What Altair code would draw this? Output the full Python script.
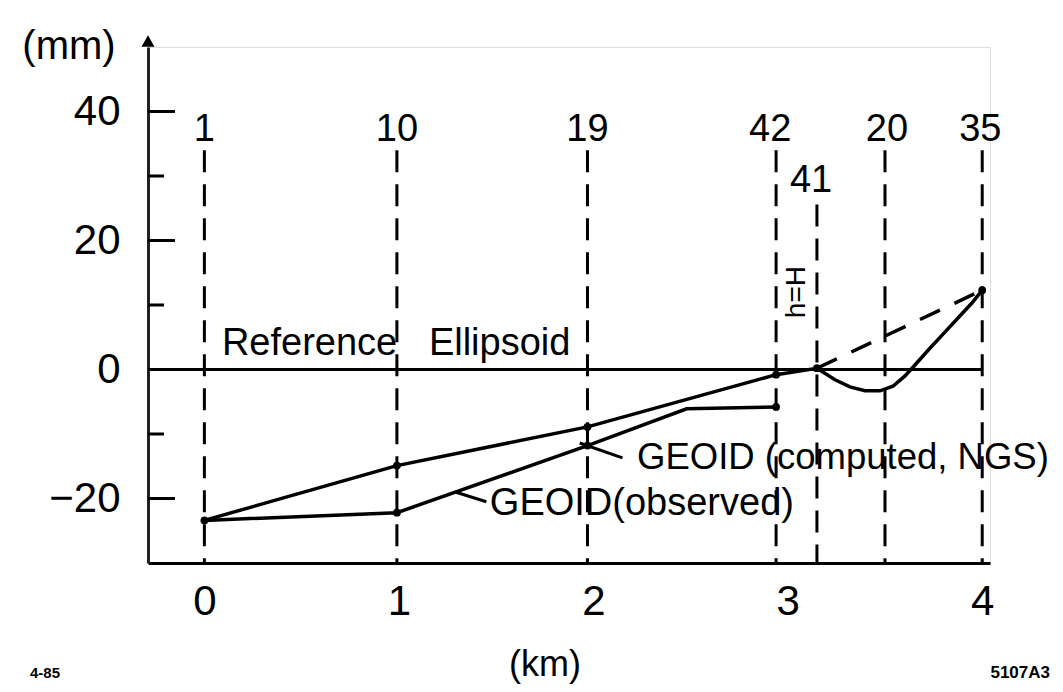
import altair as alt
import pandas as pd

# ---- data ----
station_names = ["1", "10", "19", "42", "41", "20", "35"]
station_km = [0.0, 0.99, 1.97, 2.94, 3.15, 3.50, 4.0]
station_top_mm = [34.0, 34.0, 34.0, 34.0, 25.6, 34.0, 34.0]

upper_km = [0.0, 0.99, 1.97, 2.94, 3.15, 3.243, 3.32, 3.397, 3.474, 3.541, 3.603,
            3.654, 3.731, 3.808, 3.885, 3.947, 4.0]
upper_mm = [-23.4, -14.9, -8.9, -0.8, 0.2, -1.6, -2.7, -3.3, -3.3, -2.6, -1.0,
            0.7, 3.3, 5.8, 8.3, 10.3, 12.3]

lower_km = [0.0, 0.99, 1.97, 2.48, 2.94]
lower_mm = [-23.4, -22.2, -11.8, -6.1, -5.8]

dash_km = [3.15, 4.0]
dash_mm = [0.2, 12.3]

dot_km = [0.0, 0.99, 1.97, 2.94, 3.15, 4.0, 0.99, 1.97, 2.94]
dot_mm = [-23.4, -14.9, -8.9, -0.8, 0.2, 12.3, -22.2, -11.8, -5.8]

ellipsoid_mm = [0.0]
ellipsoid_end_km = [4.0]

x_ticks = [0, 1, 2, 3, 4]
y_labels = [-20, 0, 20, 40]
y_major = [-20, 0, 20, 40]
y_minor = [-10, 10, 30]

# ---- styling / annotation placement ----
FONT = "Liberation Sans"
W, H = 842, 516
X_DOMAIN = [-0.29, 4.04]
Y_DOMAIN = [-30, 50]

xs = alt.Scale(domain=X_DOMAIN, nice=False, zero=False)
ys = alt.Scale(domain=Y_DOMAIN, nice=False, zero=False)
x_axis = alt.Axis(values=x_ticks, ticks=False, tickSize=0, grid=False, labelFontSize=42,
                  labelFont=FONT, labelColor="black", labelPadding=18, domainColor="black",
                  domainWidth=3, title=None)
y_axis = alt.Axis(values=y_labels, ticks=False, tickSize=0, grid=False, labelFontSize=42,
                  labelFont=FONT, labelColor="black", labelPadding=28, domainColor="#222",
                  domainWidth=3, title=None)


def X(f):
    return alt.X(f, type="quantitative", scale=xs, axis=x_axis)


def Y(f):
    return alt.Y(f, type="quantitative", scale=ys, axis=y_axis)


stations = pd.DataFrame({"name": station_names, "km": station_km, "top": station_top_mm})
upper = pd.DataFrame({"km": upper_km, "mm": upper_mm})
lower = pd.DataFrame({"km": lower_km, "mm": lower_mm})
dashed = pd.DataFrame({"km": dash_km, "mm": dash_mm})
dots = pd.DataFrame({"km": dot_km, "mm": dot_mm})
ellipsoid = pd.DataFrame({"mm": ellipsoid_mm, "km1": [X_DOMAIN[0]] * len(ellipsoid_mm),
                          "km2": ellipsoid_end_km})
majors = pd.DataFrame({"mm": y_major})
minors = pd.DataFrame({"mm": y_minor})

# station label placement (annotation layout)
lab = stations.copy()
lab["ly"] = [37.1, 37.1, 37.1, 37.1, 29.2, 37.1, 37.1]
lab["lx"] = [0.0, 0.99, 1.97, 2.91, 3.12, 3.51, 3.99]

station_lines = alt.Chart(stations).mark_rule(
    color="black", strokeWidth=3, strokeDash=[22, 12]
).encode(x=X("km"), y=Y("top"), y2=alt.value(H))

station_labels = alt.Chart(lab).mark_text(
    font=FONT, fontSize=38, baseline="middle", align="center", color="black"
).encode(x=X("lx"), y=Y("ly"), text="name:N")

zero_line = alt.Chart(ellipsoid).mark_rule(color="black", strokeWidth=3).encode(
    y=Y("mm"), x=X("km1"), x2="km2:Q"
)

major_ticks = alt.Chart(majors).mark_rule(color="black", strokeWidth=3).encode(
    y=Y("mm"), x=alt.value(0), x2=alt.value(27)
)
minor_ticks = alt.Chart(minors).mark_rule(color="black", strokeWidth=3).encode(
    y=Y("mm"), x=alt.value(0), x2=alt.value(16)
)

line_upper = alt.Chart(upper).mark_line(color="black", strokeWidth=3.5).encode(
    x=X("km"), y=Y("mm"), order="km:Q"
)
line_lower = alt.Chart(lower).mark_line(color="black", strokeWidth=3.5).encode(
    x=X("km"), y=Y("mm"), order="km:Q"
)
line_dash = alt.Chart(dashed).mark_line(color="black", strokeWidth=3.5, strokeDash=[22, 16]).encode(
    x=X("km"), y=Y("mm")
)
points = alt.Chart(dots).mark_point(filled=True, color="black", size=60, opacity=1).encode(
    x=X("km"), y=Y("mm")
)

# annotations (text + leaders), placed in data units
ann = pd.DataFrame({
    "t": ["Reference\u00a0\u00a0\u00a0Ellipsoid", "GEOID (computed, NGS)", "GEOID(observed)"],
    "x": [0.09, 2.225, 1.468],
    "y": [2.25, -15.4, -22.6],
    "fs": [38.0, 36.5, 38.0],
})
ann_text = alt.Chart(ann).mark_text(
    font=FONT, align="left", baseline="alphabetic", color="black"
).encode(x=X("x"), y=Y("y"), text="t:N",
         size=alt.Size("fs:Q", scale=None, legend=None))

leaders = pd.DataFrame({
    "x": [1.93, 1.29], "y": [-11.4, -19.0],
    "x2": [2.15, 1.45], "y2": [-13.7, -20.5],
})
leader_rules = alt.Chart(leaders).mark_rule(color="black", strokeWidth=3).encode(
    x=X("x"), y=Y("y"), x2="x2:Q", y2="y2:Q"
)

hH = alt.Chart(pd.DataFrame({"t": ["h=H"], "x": [3.05], "y": [12.0]})).mark_text(
    font=FONT, fontSize=28, angle=270, align="center", baseline="middle", color="black"
).encode(x=X("x"), y=Y("y"), text="t:N")

one = pd.DataFrame({"a": [0]})
arrow = alt.Chart(one).mark_point(shape="triangle-up", filled=True, color="black", size=170, opacity=1).encode(
    x=alt.value(0), y=alt.value(-6)
)
mm_label = alt.Chart(one).mark_text(font=FONT, fontSize=40, align="center", baseline="middle", color="black",
                                    text="(mm)").encode(x=alt.value(-79), y=alt.value(0))
km_label = alt.Chart(one).mark_text(font=FONT, fontSize=36, align="center", baseline="middle", color="black",
                                    text="(km)").encode(x=alt.value(397), y=alt.value(618))
left_id = alt.Chart(one).mark_text(font=FONT, fontSize=15, fontWeight="bold", align="left",
                                   baseline="middle", color="black", text="4-85").encode(
    x=alt.value(-118), y=alt.value(626))
right_id = alt.Chart(one).mark_text(font=FONT, fontSize=17, fontWeight="bold", align="right",
                                    baseline="middle", color="black", text="5107A3").encode(
    x=alt.value(902), y=alt.value(626))

chart = alt.layer(
    station_lines, zero_line, major_ticks, minor_ticks, line_upper, line_lower, line_dash,
    points, station_labels, ann_text, leader_rules, hH, arrow, mm_label, km_label, left_id, right_id
).properties(
    width=W, height=H,
    autosize=alt.AutoSizeParams(type="none"),
    padding={"left": 140, "top": 39, "right": 65, "bottom": 121},
).configure_view(stroke=None).configure(background="white")

chart.save("out.html", embed_options={"renderer": "svg", "actions": False})
